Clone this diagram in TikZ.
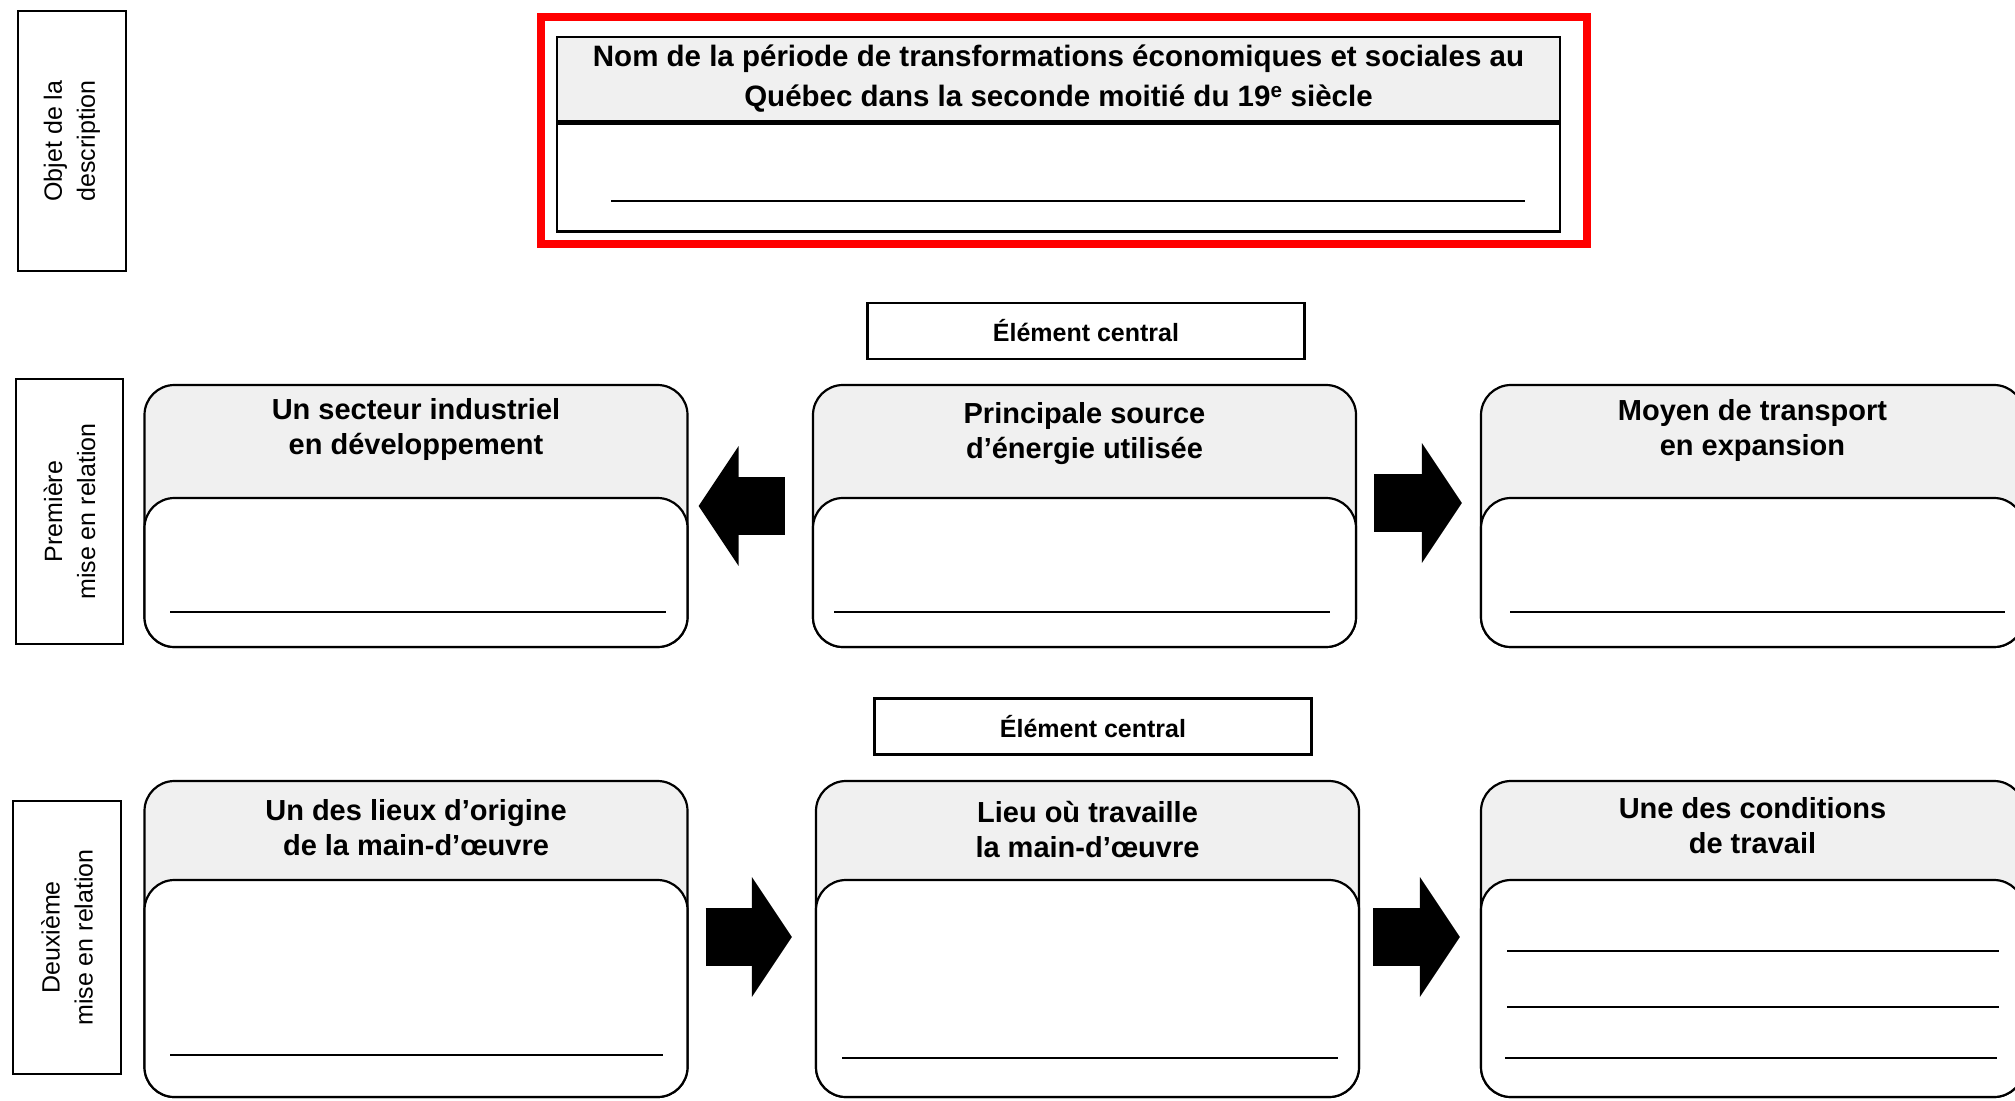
\documentclass[tikz,border=0pt]{standalone}
\usepackage{fontspec}
\setmainfont{Liberation Sans}
\usetikzlibrary{arrows.meta}
\definecolor{entete}{HTML}{F0F0F0}
\definecolor{rouge}{HTML}{FF0000}

\begin{document}
\begin{tikzpicture}[x=1pt,y=-1pt,
  cote/.style={draw,line width=2.5pt,rotate=90,align=center,font=\fontsize{25}{33}\selectfont},
  cadre/.style={draw,line width=2.2pt,rounded corners=30pt,minimum width=543pt,fill=entete},
  reponse/.style={draw,line width=2.2pt,rounded corners=30pt,minimum width=543pt,fill=white},
  titre/.style={align=center,inner sep=0pt,font=\bfseries\fontsize{29}{35}\selectfont},
  central/.style={draw,line width=2.5pt,minimum width=437pt,minimum height=56pt,font=\bfseries\fontsize{25}{30}\selectfont},
  fleche/.style={line width=58pt,-{Triangle[length=40pt,width=118pt]}},
  ligne/.style={line width=2.5pt}]

\useasboundingbox (0,0) rectangle (2015,1100);
\clip (0,0) rectangle (2015,1100);

% objet de la description
\node[cote,minimum width=260pt,minimum height=108pt] (objet) at (72,141) {Objet de la\\description};
\draw[rouge,line width=8pt] (541,17) rectangle (1587,244);
\node[draw,fill=entete,line width=2.5pt,minimum width=1003pt,minimum height=84pt,align=center,
  font=\bfseries\fontsize{29.5}{40}\selectfont] (periode) at (1058.5,79)
  {Nom de la période de transformations économiques et sociales au\\Québec dans la seconde moitié du 19\textsuperscript{e} siècle};
\node[draw,line width=2.5pt,minimum width=1003pt,minimum height=108pt,anchor=north] (nomperiode) at (periode.south) {};
\draw[ligne] (611,201) -- (1525,201);

% premiere mise en relation
\node[central] (central1) at (1086,331) {Élément central};
\node[cote,minimum width=265pt,minimum height=107pt] (premiere) at (69.5,511.5) {Première\\mise en relation};

\node[cadre,minimum height=262pt] (secteur) at (416,516) {};
\node[reponse,minimum height=149pt] (secteurrep) at (416,572.5) {};
\node[titre] (secteurtxt) at (416,429.5) {Un secteur industriel\\en développement};
\draw[ligne] (170,612) -- (666,612);

\node[cadre,minimum height=262pt] (energie) at (1084.5,516) {};
\node[reponse,minimum height=149pt] (energierep) at (1084.5,572.5) {};
\node[titre] (energietxt) at (1084.5,433.5) {Principale source\\d’énergie utilisée};
\draw[ligne] (834,612) -- (1330,612);

\node[cadre,minimum height=262pt] (transport) at (1752.5,516) {};
\node[reponse,minimum height=149pt] (transportrep) at (1752.5,572.5) {};
\node[titre] (transporttxt) at (1752.5,430) {Moyen de transport\\en expansion};
\draw[ligne] (1510,612) -- (2005,612);

\draw[fleche,shorten <=27pt,shorten >=10pt] ([yshift=10pt]energie.west) -- ([yshift=10pt]secteur.east);
\draw[fleche,shorten <=17pt,shorten >=18pt] ([yshift=13pt]energie.east) -- ([yshift=13pt]transport.west);

% deuxieme mise en relation
\node[central] (central2) at (1093,726.5) {Élément central};
\node[cote,minimum width=273pt,minimum height=108pt] (deuxieme) at (67,937.5) {Deuxième\\mise en relation};

\node[cadre,minimum height=316pt] (origine) at (416,939) {};
\node[reponse,minimum height=217pt] (originerep) at (416,988.5) {};
\node[titre] (originetxt) at (416,827.5) {Un des lieux d’origine\\de la main-d’œuvre};
\draw[ligne] (170,1055) -- (663,1055);

\node[cadre,minimum height=316pt] (lieu) at (1087.5,939) {};
\node[reponse,minimum height=217pt] (lieurep) at (1087.5,988.5) {};
\node[titre] (lieutxt) at (1087.5,829.5) {Lieu où travaille\\la main-d’œuvre};
\draw[ligne] (842,1058) -- (1338,1058);

\node[cadre,minimum height=316pt] (conditions) at (1752.5,939) {};
\node[reponse,minimum height=217pt] (conditionsrep) at (1752.5,988.5) {};
\node[titre] (conditionstxt) at (1752.5,825.5) {Une des conditions\\de travail};
\draw[ligne] (1507,951) -- (1999,951);
\draw[ligne] (1507,1007) -- (1999,1007);
\draw[ligne] (1505,1058) -- (1997,1058);

\draw[fleche,shorten <=17pt,shorten >=23pt] ([yshift=2pt]origine.east) -- ([yshift=2pt]lieu.west);
\draw[fleche,shorten <=13pt,shorten >=20pt] ([yshift=2pt]lieu.east) -- ([yshift=2pt]conditions.west);
\end{tikzpicture}
\end{document}
